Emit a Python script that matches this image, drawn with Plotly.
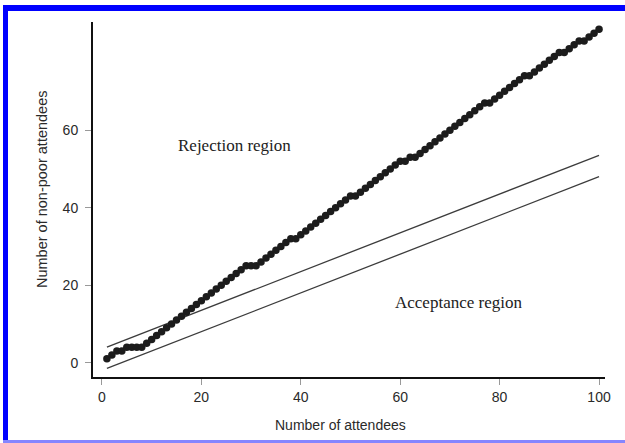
import plotly.graph_objects as go

# ---------------- data ----------------
attendees = list(range(1, 101))
non_poor = [1, 2, 3, 3, 4, 4, 4, 4, 5, 6,
            7, 8, 9, 10, 11, 12, 13, 14, 15, 16,
            17, 18, 19, 20, 21, 22, 23, 24, 25, 25,
            25, 26, 27, 28, 29, 30, 31, 32, 32, 33,
            34, 35, 36, 37, 38, 39, 40, 41, 42, 43,
            43, 44, 45, 46, 47, 48, 49, 50, 51, 52,
            52, 53, 53, 54, 55, 56, 57, 58, 59, 60,
            61, 62, 63, 64, 65, 66, 67, 67, 68, 69,
            70, 71, 72, 73, 74, 74, 75, 76, 77, 78,
            79, 80, 80, 81, 82, 83, 83, 84, 85, 86]
line_x = [1, 100]
upper_boundary = [4.0, 53.5]
lower_boundary = [-1.5, 48.0]
x_ticks = [0, 20, 40, 60, 80, 100]
y_ticks = [0, 20, 40, 60]
labels = ["Rejection region", "Acceptance region"]
label_x = [26.6, 71.8]
label_y = [56.0, 15.5]

# ---------------- layout geometry (pixels) ----------------
W, H = 625, 443
L, R, T, B = 93, 605, 22, 377


def pxx(px):
    return (px - L) / (R - L)


def pxy(py):
    return (B - py) / (B - T)


fig = go.Figure()
for yy in (upper_boundary, lower_boundary):
    fig.add_trace(go.Scatter(x=line_x, y=yy, mode="lines",
                             line=dict(color="#3c3c3c", width=1.3),
                             hoverinfo="skip"))
fig.add_trace(go.Scatter(x=attendees, y=non_poor, mode="markers",
                         marker=dict(color="#1c1c1c", size=7.5,
                                     line=dict(width=0))))

tickfont = dict(family="Liberation Sans, Arial, sans-serif", size=14, color="#2a2a2a")
fig.update_xaxes(range=[-1.8, 101.2], tickvals=x_ticks, showgrid=False, zeroline=False,
                 showline=True, linecolor="#111", linewidth=2,
                 ticks="outside", ticklen=6, tickwidth=1, tickcolor="#999",
                 tickfont=tickfont)
fig.update_yaxes(range=[-3.7, 87.9], tickvals=y_ticks, showgrid=False, zeroline=False,
                 showline=True, linecolor="#111", linewidth=2,
                 ticks="outside", ticklen=6, tickwidth=1, tickcolor="#999",
                 tickfont=tickfont, ticklabelstandoff=4)

annotations = []
for t, x, y in zip(labels, label_x, label_y):
    annotations.append(dict(x=x, y=y, xref="x", yref="y", text=t, showarrow=False,
                            xanchor="center", yanchor="middle",
                            font=dict(family="Liberation Serif, Times New Roman, serif",
                                      size=17, color="#222")))
annotations.append(dict(x=pxx(340), y=pxy(425), xref="paper", yref="paper",
                        xanchor="center", yanchor="middle",
                        text="Number of attendees", showarrow=False,
                        font=dict(family="Liberation Sans, Arial, sans-serif", size=14, color="#2a2a2a")))
annotations.append(dict(x=pxx(42), y=pxy(189), xref="paper", yref="paper",
                        xanchor="center", yanchor="middle",
                        text="Number of non-poor attendees", showarrow=False, textangle=-90,
                        font=dict(family="Liberation Sans, Arial, sans-serif", size=14.5, color="#2a2a2a")))

shapes = [
    dict(type="rect", xref="paper", yref="paper", x0=pxx(3), x1=pxx(626), y0=pxy(11), y1=pxy(5),
         fillcolor="#0000ff", line=dict(width=0), layer="above"),
    dict(type="rect", xref="paper", yref="paper", x0=pxx(3), x1=pxx(8), y0=pxy(444), y1=pxy(5),
         fillcolor="#0000ff", line=dict(width=0), layer="above"),
    dict(type="rect", xref="paper", yref="paper", x0=pxx(3), x1=pxx(626), y0=pxy(444), y1=pxy(440),
         fillcolor="#8585ff", line=dict(width=0), layer="above"),
]

fig.update_layout(width=W, height=H, margin=dict(l=L, r=W - R, t=T, b=H - B),
                  paper_bgcolor="white", plot_bgcolor="white", showlegend=False,
                  annotations=annotations, shapes=shapes)

fig.write_html("out.html")
